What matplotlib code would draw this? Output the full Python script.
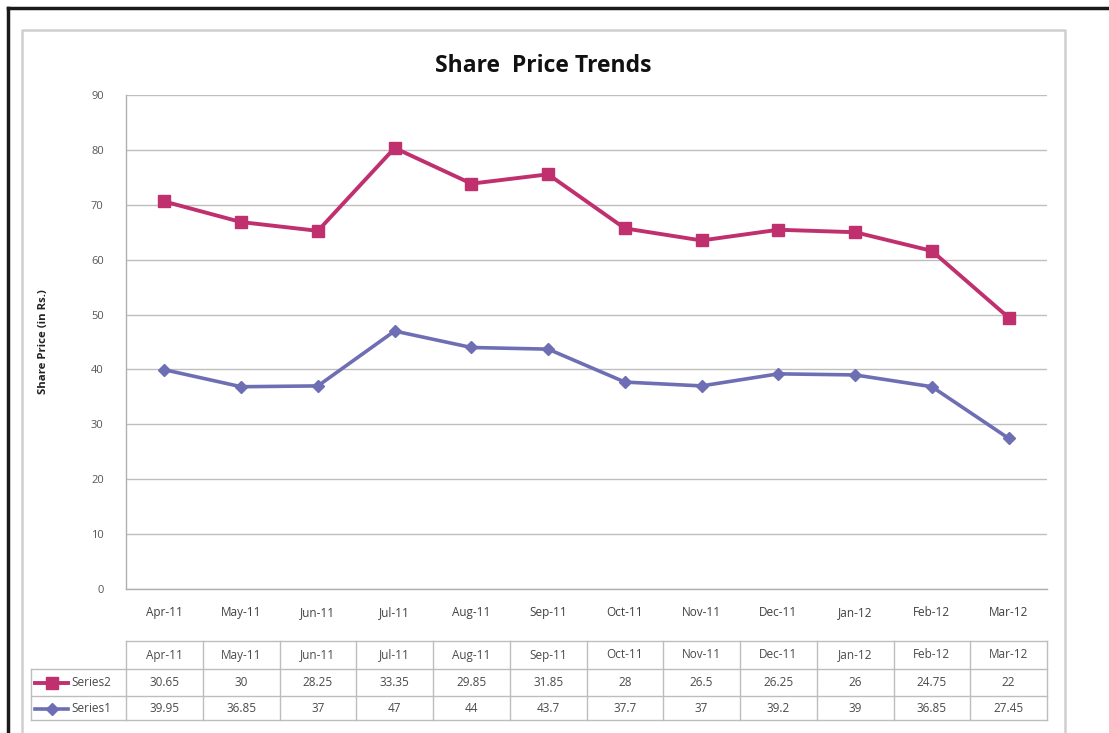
import matplotlib
matplotlib.use("Agg")
import matplotlib.pyplot as plt
import numpy as np
from matplotlib.transforms import blended_transform_factory
from matplotlib.lines import Line2D

months = ["Apr-11", "May-11", "Jun-11", "Jul-11", "Aug-11", "Sep-11",
          "Oct-11", "Nov-11", "Dec-11", "Jan-12", "Feb-12", "Mar-12"]
series1 = [39.95, 36.85, 37, 47, 44, 43.7, 37.7, 37, 39.2, 39, 36.85, 27.45]
series2 = [30.65, 30, 28.25, 33.35, 29.85, 31.85, 28, 26.5, 26.25, 26, 24.75, 22]
series1_labels = ["39.95", "36.85", "37", "47", "44", "43.7", "37.7", "37", "39.2", "39", "36.85", "27.45"]
series2_labels = ["30.65", "30", "28.25", "33.35", "29.85", "31.85", "28", "26.5", "26.25", "26", "24.75", "22"]

c2 = "#C0306F"
c1 = "#6E6EB4"
W, H = 1109, 733
fig = plt.figure(figsize=(W / 100, H / 100), dpi=100)
fig.patch.set_facecolor("white")

def fx(px):
    return px / W

def fy(py):
    return 1 - py / H

# outer black frame
fig.add_artist(Line2D([fx(8), fx(8)], [fy(8), 0], color="#1a1a1a", lw=2.5, transform=fig.transFigure))
fig.add_artist(Line2D([fx(8), 1], [fy(8), fy(8)], color="#1a1a1a", lw=2.5, transform=fig.transFigure))
# chart area border
fig.add_artist(Line2D([fx(22), fx(22), fx(1065), fx(1065)], [0, fy(30), fy(30), 0],
                      color="#CFCFCF", lw=1.8, transform=fig.transFigure))

ax = fig.add_axes([fx(126), fy(589), fx(1047) - fx(126), fy(95) - fy(589)])
x = np.arange(len(months))
stack2 = np.array(series1) + np.array(series2)

ax.plot(x, series1, color=c1, lw=2.6, marker="D", ms=6, mfc=c1, mec=c1, zorder=3)
ax.plot(x, stack2, color=c2, lw=2.8, marker="s", ms=8, mfc=c2, mec=c2, zorder=3)

ax.set_xlim(-0.5, len(months) - 0.5)
ax.set_ylim(0, 90)
ax.set_yticks(range(0, 91, 10))
ax.yaxis.grid(True, color="#BEBEBE", lw=1.0)
ax.set_axisbelow(True)
for s in ["top", "right"]:
    ax.spines[s].set_visible(False)
for s in ["left", "bottom"]:
    ax.spines[s].set_color("#B0B0B0")
    ax.spines[s].set_linewidth(1.0)
ax.tick_params(axis="y", length=0, pad=16, labelsize=8, labelcolor="#555555")
ax.set_xticks(x)
ax.set_xticklabels(months)
ax.tick_params(axis="x", length=0, pad=12, labelsize=8.5, labelcolor="#404040")
for t in ax.get_xticklabels() + ax.get_yticklabels():
    t.set_fontfamily("Open Sans")

ax.set_ylabel("Share Price (in Rs.)", fontsize=8.2, fontweight="bold", color="#222222",
              fontfamily="Open Sans", labelpad=30)

fig.text(fx(543), fy(66), "Share  Price Trends", ha="center", va="center", fontsize=16.5,
         fontweight="bold", color="#111111", fontfamily="Open Sans")

# data table
tr = blended_transform_factory(ax.transData, fig.transFigure)
gcol = "#BDBDBD"
row_y = [641, 669, 696, 720]
x0, x1 = -0.5, len(months) - 0.5
for yy in row_y:
    fig.add_artist(Line2D([x0, x1], [fy(yy), fy(yy)], color=gcol, lw=1, transform=tr))
for i in range(len(months) + 1):
    fig.add_artist(Line2D([i - 0.5, i - 0.5], [fy(641), fy(720)], color=gcol, lw=1, transform=tr))
# legend cells
ftr = fig.transFigure
for yy in (669, 696, 720):
    fig.add_artist(Line2D([fx(31), fx(126)], [fy(yy), fy(yy)], color=gcol, lw=1, transform=ftr))
fig.add_artist(Line2D([fx(31), fx(31)], [fy(669), fy(720)], color=gcol, lw=1, transform=ftr))

tcol = "#4a4a4a"
for i, m in enumerate(months):
    fig.text(i, fy(655), m, transform=tr, ha="center", va="center", fontsize=8.5,
             color=tcol, fontfamily="Open Sans")
    fig.text(i, fy(683), series2_labels[i], transform=tr, ha="center", va="center",
             fontsize=8.5, color=tcol, fontfamily="Open Sans")
    fig.text(i, fy(708.5), series1_labels[i], transform=tr, ha="center", va="center",
             fontsize=8.5, color=tcol, fontfamily="Open Sans")

fig.add_artist(Line2D([fx(35), fx(51.5), fx(68)], [fy(683)] * 3, color=c2, lw=2.8, marker="s",
                      ms=8, markevery=[1], transform=ftr))
fig.add_artist(Line2D([fx(35), fx(51.5), fx(68)], [fy(708.5)] * 3, color=c1, lw=2.6, marker="D",
                      ms=6, markevery=[1], transform=ftr))
fig.text(fx(71), fy(683), "Series2", ha="left", va="center", fontsize=8.5, color=tcol,
         fontfamily="Open Sans")
fig.text(fx(71), fy(708.5), "Series1", ha="left", va="center", fontsize=8.5, color=tcol,
         fontfamily="Open Sans")

fig.savefig("out.png", dpi=100, facecolor="white")
